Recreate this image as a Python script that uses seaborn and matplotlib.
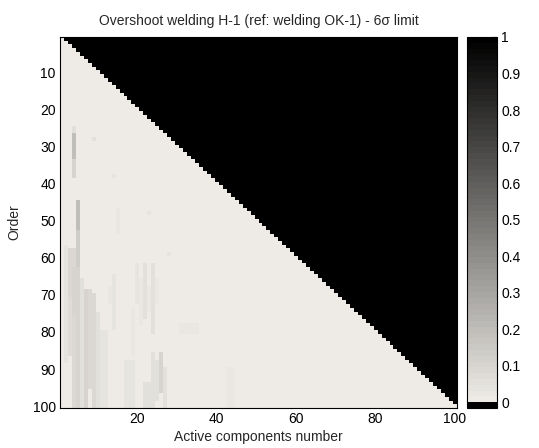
import numpy as np
import pandas as pd
import matplotlib
matplotlib.use("Agg")
import matplotlib.pyplot as plt
from matplotlib.colors import ListedColormap
import seaborn as sns

sns.set_style("white")
plt.rcParams["font.family"] = ["Liberation Sans", "DejaVu Sans"]

# Grid size: order (rows) x active components (columns)
n_order = 100
n_comp = 100

# Cells above the diagonal (components > order) are not evaluated
masked_value = -1.0 / 63.0

# Exceedance fractions in the evaluated region, as rectangular blocks
# (first component, last component, first order, last order, value)
blk_c0 = [4, 4, 4, 9, 14, 23, 5, 5, 3, 3, 4, 4, 5, 6, 7, 8, 9, 10, 11, 14,
          15, 17, 20, 21, 22, 23, 24, 25, 19, 24, 25, 26, 27, 28, 31, 43, 13, 22, 2]
blk_c1 = [4, 4, 4, 9, 14, 23, 5, 5, 4, 3, 5, 4, 5, 6, 7, 8, 9, 10, 12, 14,
          15, 19, 20, 21, 22, 23, 24, 25, 19, 24, 25, 26, 27, 28, 35, 44, 13, 24, 2]
blk_r0 = [25, 27, 34, 28, 38, 48, 45, 53, 58, 71, 63, 76, 76, 66, 69, 69, 70, 75, 80, 65,
          47, 88, 62, 66, 62, 68, 62, 66, 74, 86, 88, 86, 90, 59, 78, 90, 68, 94, 57]
blk_r1 = [26, 33, 38, 28, 38, 48, 52, 62, 70, 86, 75, 100, 100, 100, 100, 95, 100, 100, 100, 79,
          53, 100, 72, 78, 76, 74, 80, 72, 86, 100, 98, 96, 100, 59, 80, 100, 72, 100, 88]
blk_val = [0.06, 0.20, 0.10, 0.06, 0.04, 0.04, 0.20, 0.13, 0.08, 0.07, 0.10, 0.08, 0.10, 0.06,
           0.10, 0.08, 0.09, 0.06, 0.04, 0.04, 0.03, 0.04, 0.04, 0.03, 0.05, 0.03, 0.05, 0.03,
           0.03, 0.06, 0.05, 0.10, 0.05, 0.04, 0.02, 0.02, 0.03, 0.06, 0.04]

x_ticks = [20, 40, 60, 80, 100]
y_ticks = [10, 20, 30, 40, 50, 60, 70, 80, 90, 100]
cbar_ticks = [0, 0.1, 0.2, 0.3, 0.4, 0.5, 0.6, 0.7, 0.8, 0.9, 1]
cbar_labels = ["0", "0.1", "0.2", "0.3", "0.4", "0.5", "0.6", "0.7", "0.8", "0.9", "1"]

# Build the matrix
orders = np.arange(1, n_order + 1)
comps = np.arange(1, n_comp + 1)
grid = np.zeros((n_order, n_comp))
grid[comps[None, :] > orders[:, None]] = masked_value
for c0, c1, r0, r1, v in zip(blk_c0, blk_c1, blk_r0, blk_r1, blk_val):
    sub = grid[r0 - 1:r1, c0 - 1:c1]
    sub[sub >= 0] = v
df = pd.DataFrame(grid, index=orders, columns=comps)

# Colormap: black slot for masked cells, then light beige fading to black
light = np.array([0.933, 0.922, 0.902])
ramp = [light * (1 - t) for t in np.linspace(0, 1, 63)]
cmap = ListedColormap([(0, 0, 0)] + [tuple(c) for c in ramp])

W, H = 539, 448
fig = plt.figure(figsize=(W / 100, H / 100), dpi=100)
ax = fig.add_axes([60 / W, 40 / H, 397 / W, 371 / H])
cax = fig.add_axes([467 / W, 40 / H, 30 / W, 371 / H])

sns.heatmap(df, ax=ax, cmap=cmap, vmin=masked_value, vmax=1.0, cbar_ax=cax,
            xticklabels=False, yticklabels=False)

ax.set_xticks([t - 0.5 for t in x_ticks])
ax.set_xticklabels([str(t) for t in x_ticks])
ax.set_yticks([t - 0.5 for t in y_ticks])
ax.set_yticklabels([str(t) for t in y_ticks], rotation=0)
ax.tick_params(direction="in", length=4, width=0.8, labelsize=10, colors="black",
               top=True, right=True, pad=3)
for s in ax.spines.values():
    s.set_visible(True)
    s.set_color("black")
    s.set_linewidth(0.8)

ax.set_xlabel("Active components number", fontsize=10, labelpad=3)
ax.set_ylabel("Order", fontsize=10, labelpad=8)
ax.set_title("Overshoot welding H-1 (ref: welding OK-1) - 6σ limit", fontsize=10, pad=9)

cbar = ax.collections[0].colorbar
cbar.set_ticks(cbar_ticks)
cbar.set_ticklabels(cbar_labels)
cax.tick_params(direction="in", length=4, width=0.8, labelsize=10, colors="black", pad=3)
cbar.outline.set_visible(True)
cbar.outline.set_edgecolor("black")
cbar.outline.set_linewidth(0.8)

fig.savefig("out.png", dpi=100, facecolor="white")
